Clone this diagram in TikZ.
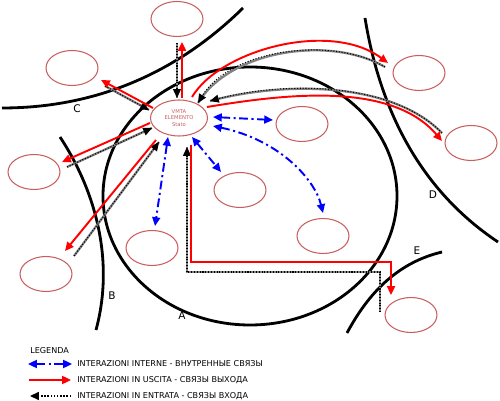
\documentclass[tikz,border=0pt]{standalone}
\usepackage{fontspec}
\setmainfont{DejaVu Sans}
\usetikzlibrary{arrows.meta,shapes.geometric}
\definecolor{ellred}{RGB}{200,95,95}

\tikzset{
  zona/.style={draw=ellred, ellipse, line width=0.6pt, inner sep=0pt,
    minimum width=1.04cm, minimum height=0.7cm},
  confine/.style={line width=1.6pt},
  lettera/.style={font=\fontsize{6}{7}\selectfont},
  uscita/.style={red, line width=1.1pt, -{Triangle[length=5pt,width=4.5pt]}},
  interna/.style={blue, line width=1.1pt, dash pattern=on 5pt off 2pt on 1.2pt off 2pt,
    {Triangle[length=5pt,width=4.5pt]}-{Triangle[length=5pt,width=4.5pt]}},
  entrata/.style={gray, line width=1.3pt,
    postaction={draw=black, line width=0.6pt, densely dotted, -{Triangle[length=5pt,width=4.5pt]}}}
}

\begin{document}
\begin{tikzpicture}[x=0.02cm,y=-0.02cm]
  \useasboundingbox (0,0) rectangle (500,401);

  %Confini
  \draw[confine] (250,196) ellipse [x radius=147, y radius=129];
  \draw[confine] (2,108) .. controls (100,108) and (180,70) .. (243,8);
  \draw[confine] (60,137) .. controls (95,190) and (115,260) .. (96,330);
  \draw[confine] (365,18) .. controls (380,110) and (420,190) .. (498,242);
  \draw[confine] (347,333) .. controls (370,290) and (400,262) .. (442,252);
  \node[lettera] (lA) at (182,316) {A};
  \node[lettera] (lB) at (112,296) {B};
  \node[lettera] (lC) at (77,109) {C};
  \node[lettera] (lD) at (433,195) {D};
  \node[lettera] (lE) at (417,251) {E};

  %Zone
  \foreach \n/\x/\y in {z1/177/19, z2/72/68, z3/34/172, z4/46/274, z5/152/248,
      z6/240/190, z7/302/124, z8/323/236, z9/419/73, z10/471/143, z11/411/315}
    \node[zona] (\n) at (\x,\y) {};
  \node[zona, minimum width=1.14cm, minimum height=0.72cm, align=center, text=ellred,
    font=\fontsize{3}{3.6}\selectfont] (stato) at (179,118) {VMTA\\ELEMENTO\\Stato};

  %Estremi delle frecce
  \foreach \n/\x/\y in {u1s/182/98, u1e/182/42, u2s/153/108, u2e/101/80,
      u3s/150/123, u3e/62/162, u4s/156/140, u4e/65/251, u5s/192/97, u5e/388/63,
      u6s/207/107, u6e/442/141, u7s/191/145, u7e/391/295,
      e1s/177/43, e1e/177/98, e2s/105/86, e2e/149/110, e3s/67/167, e3e/152/128,
      e4s/74/256, e4e/159/142, e5s/385/67, e5e/198/103, e6s/442/133, e6e/210/101,
      e7s/380/312, e7e/187/147,
      i1s/168/137, i1e/155/226, i2s/192/137, i2e/221/172, i3s/213/117, i3e/273/120,
      i4s/213/126, i4e/323/213}
    \coordinate (\n) at (\x,\y);

  %Interazioni in entrata
  \draw[entrata] (e1s) -- (e1e);
  \draw[entrata] (e2s) -- (e2e);
  \draw[entrata] (e3s) -- (e3e);
  \draw[entrata] (e4s) -- (e4e);
  \draw[entrata] (e5s) .. controls (330,35) and (230,50) .. (e5e);
  \draw[entrata] (e6s) .. controls (390,80) and (280,82) .. (e6e);
  \draw[entrata] (e7s) -- (380,272) -- (187,272) -- (e7e);

  %Interazioni in uscita
  \draw[uscita] (u1s) -- (u1e);
  \draw[uscita] (u2s) -- (u2e);
  \draw[uscita] (u3s) -- (u3e);
  \draw[uscita] (u4s) -- (u4e);
  \draw[uscita] (u5s) .. controls (220,50) and (330,20) .. (u5e);
  \draw[uscita] (u6s) .. controls (280,95) and (390,80) .. (u6e);
  \draw[uscita] (u7s) -- (191,262) -- (391,262) -- (u7e);

  %Interazioni interne
  \draw[interna] (i1s) -- (i1e);
  \draw[interna] (i2s) -- (i2e);
  \draw[interna] (i3s) -- (i3e);
  \draw[interna] (i4s) .. controls (280,140) and (315,180) .. (i4e);

  %Legenda
  \begin{scope}[every node/.style={anchor=west, inner sep=0pt, font=\fontsize{4.6}{5.2}\selectfont}]
    \node (leg) at (30,351) {LEGENDA};
    \node (t1) at (77,364) {INTERAZIONI INTERNE - ВНУТРЕННЫЕ СВЯЗЫ};
    \node (t2) at (77,380) {INTERAZIONI IN USCITA - СВЯЗЫ ВЫХОДА};
    \node (t3) at (77,396) {INTERAZIONI IN ENTRATA - СВЯЗЫ ВХОДА};
    \coordinate (l1s) at (28,364); \coordinate (l1e) at (72,364);
    \coordinate (l2s) at (29,380); \coordinate (l2e) at (71,380);
    \coordinate (l3s) at (71,396); \coordinate (l3e) at (30,396);
  \end{scope}
  \draw[interna] (l1s) -- (l1e);
  \draw[uscita] (l2s) -- (l2e);
  \draw[densely dotted, line width=0.8pt, -{Triangle[length=5pt,width=4.5pt]}] (l3s) -- (l3e);
\end{tikzpicture}
\end{document}
